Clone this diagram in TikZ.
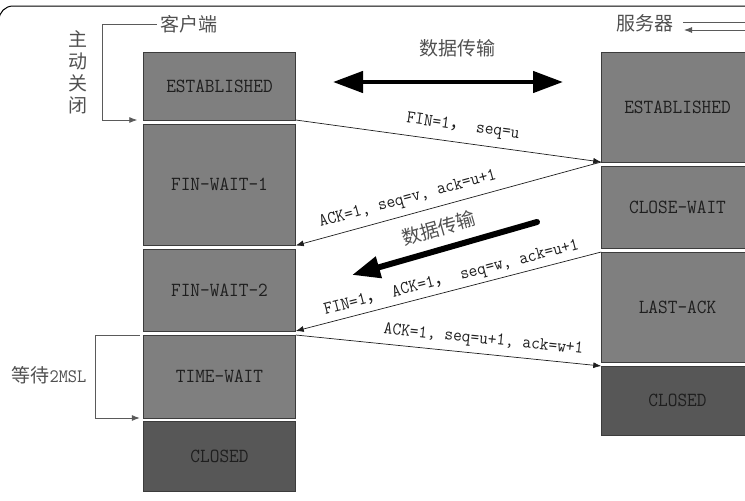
\documentclass[tikz,border=0pt]{standalone}
\usepackage{fontspec}
\newfontfamily\cjk{Noto Sans CJK SC}
\newfontfamily\statefont[FakeStretch=0.94]{Latin Modern Mono}
\usetikzlibrary{arrows.meta,positioning}
\definecolor{boxgray}{HTML}{7F7F7F}
\definecolor{closedgray}{HTML}{575757}
\definecolor{edge}{HTML}{3C3C3C}
\definecolor{ink}{HTML}{1E1E1E}
\definecolor{muted}{HTML}{505050}
\definecolor{guidegray}{HTML}{5A5A5A}

\begin{document}
\begin{tikzpicture}[
    x=1pt, y=-1pt,
    >={Latex[length=8pt,width=6pt]},
    state/.style={draw=edge, line width=0.8pt, fill=boxgray, minimum width=152.5pt, inner sep=0pt, outer sep=0pt, text=ink, font=\statefont\fontsize{20pt}{22pt}\selectfont},
    closedstate/.style={state, fill=closedgray},
    msg/.style={draw=ink, line width=0.7pt},
    msglabel/.style={sloped, text=ink, font=\statefont\fontsize{18pt}{20pt}\selectfont, inner sep=2pt},
    cjklabel/.style={text=muted, font=\cjk\fontsize{19pt}{22pt}\selectfont},
    guide/.style={draw=guidegray, line width=0.8pt},
    fat/.style={line width=4.5pt, draw=black}
  ]
    \useasboundingbox (0,0) rectangle (745,501);
    \clip (0,0) rectangle (745,501);
    \draw[line width=1pt, rounded corners=14pt] (-1,700) rectangle (900,6);

    % client side
    \node[state, minimum height=68pt] (cest) at (219.5,86) {ESTABLISHED};
    \node[state, minimum height=121.5pt, below=4pt of cest] (cfw1) {FIN-WAIT-1};
    \node[state, minimum height=81.5pt, below=4pt of cfw1] (cfw2) {FIN-WAIT-2};
    \node[state, minimum height=83pt, below=4pt of cfw2] (ctw) {TIME-WAIT};
    \node[closedstate, minimum height=69.5pt, below=3.5pt of ctw] (ccl) {CLOSED};

    % server side
    \node[state, minimum height=110pt] (sest) at (677.5,107) {ESTABLISHED};
    \node[state, minimum height=81.5pt, below=4.5pt of sest] (scw) {CLOSE-WAIT};
    \node[state, minimum height=110.5pt, below=4pt of scw] (sla) {LAST-ACK};
    \node[closedstate, minimum height=69.5pt, below=3.5pt of sla] (scl) {CLOSED};

    % side labels
    \node[cjklabel] (client) at (189,24) {客户端};
    \node[cjklabel] (server) at (645,23) {服务器};
    \node[cjklabel, align=center] (activeclose) at (78,72) {主\\动\\关\\闭};
    \node[cjklabel] (wait) at (49,375) {等待{\statefont 2MSL}};
    \node[cjklabel] (datatop) at (457,48) {数据传输};

    \draw[guide, ->] (client.west) -- (102,24) |- ([xshift=-6pt]cest.south west);
    \draw[guide, ->] ([xshift=-3.5pt]ctw.north west) -- ++(-44,0) |- ([xshift=-3.5pt]ctw.south west);
    \draw[guide] ([xshift=6pt,yshift=1pt]server.east) -- ++(80,0);
    \draw[guide, <-] ([xshift=7pt,yshift=-7pt]server.east) -- ++(80,0);

    % data flow arrows
    \coordinate (flowleft) at (333,82);
    \coordinate (flowright) at (563,82);
    \draw[fat, {Triangle[length=30pt,width=21pt]}-{Triangle[length=30pt,width=21pt]}] (flowleft) -- (flowright);
    \coordinate (flowtail) at (537,222);
    \coordinate (flowhead) at (352,275);
    \draw[fat, line width=6pt, line cap=round, {Triangle[length=28pt,width=21pt]}-] (flowhead) -- node[cjklabel, sloped, above=6pt] {数据传输} (flowtail);

    % messages
    \draw[msg, ->] (cest.south east) -- node[msglabel, above=6pt, pos=.54] {FIN=1{\cjk ，}\ seq=u} (sest.south west);
    \draw[msg, <-] (cfw1.south east) -- node[msglabel, above=5pt, pos=.38] {ACK=1, seq=v, ack=u+1} (sest.south west);
    \draw[msg, <-] (cfw2.south east) -- node[msglabel, above=2pt, pos=.52] {FIN=1{\cjk ，}\ ACK=1{\cjk ，}\ seq=w, ack=u+1} (sla.north west);
    \draw[msg, ->] (ctw.north east) -- node[msglabel, above=4pt, pos=.61] {ACK=1, seq=u+1, ack=w+1} (scl.north west);
\end{tikzpicture}
\end{document}
